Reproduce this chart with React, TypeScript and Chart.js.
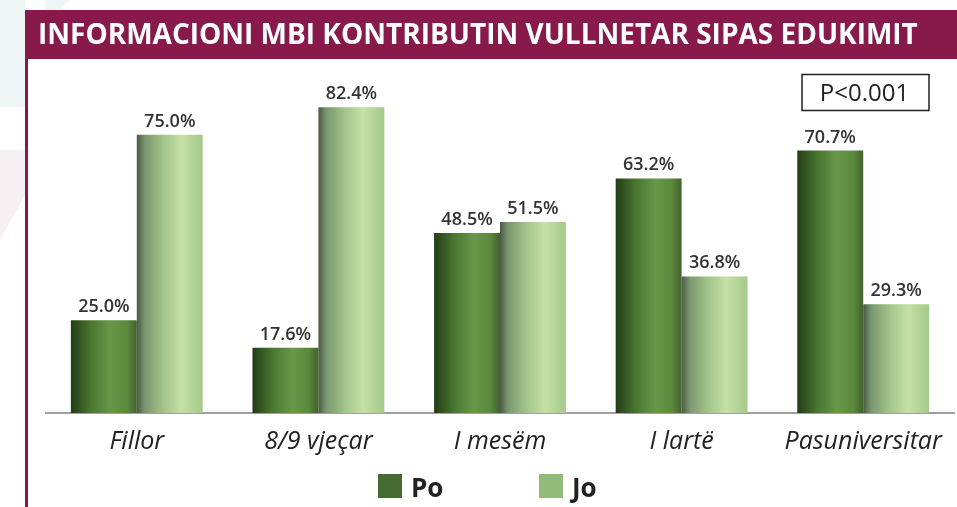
import React, { useEffect, useRef } from "react";
import { Chart, registerables } from "chart.js";

Chart.register(...registerables);

const TITLE = "INFORMACIONI MBI KONTRIBUTIN VULLNETAR SIPAS EDUKIMIT";
const CATEGORIES = ["Fillor", "8/9 vjeçar", "I mesëm", "I lartë", "Pasuniversitar"];
const SERIES_NAMES = ["Po", "Jo"];
const PO_VALUES = [25.0, 17.6, 48.5, 63.2, 70.7];
const JO_VALUES = [75.0, 82.4, 51.5, 36.8, 29.3];
const P_VALUE_LABEL = "P<0.001";

const MAROON = "#871a4b";
const LEGEND_COLORS = ["#466a30", "#93bb78"];
const GRADIENTS: [number, string][][] = [
  [
    [0, "#223c16"],
    [0.3, "#4a7530"],
    [0.6, "#68974a"],
    [0.85, "#5b8a3d"],
    [1, "#44612f"],
  ],
  [
    [0, "#4b5a44"],
    [0.12, "#7a9670"],
    [0.4, "#a2c48a"],
    [0.68, "#c5e0a6"],
    [1, "#a4c98a"],
  ],
];

const decorPlugin = {
  id: "decor",
  beforeDraw(chart: any) {
    const ctx = chart.ctx;
    ctx.save();
    // faint watermark shapes
    ctx.fillStyle = "#eef5f5";
    ctx.beginPath();
    ctx.moveTo(0, 0);
    ctx.lineTo(25, 0);
    ctx.lineTo(25, 107);
    ctx.lineTo(0, 107);
    ctx.closePath();
    ctx.fill();
    ctx.beginPath();
    ctx.moveTo(45, 0);
    ctx.lineTo(70, 0);
    ctx.lineTo(60, 10);
    ctx.lineTo(45, 10);
    ctx.closePath();
    ctx.fill();
    ctx.fillStyle = "#f7f0f2";
    ctx.beginPath();
    ctx.moveTo(0, 150);
    ctx.lineTo(25, 150);
    ctx.lineTo(25, 195);
    ctx.lineTo(0, 240);
    ctx.closePath();
    ctx.fill();
    // banner
    ctx.fillStyle = MAROON;
    ctx.fillRect(25, 10, 932, 49);
    ctx.fillRect(25, 59, 3, 448);
    ctx.fillStyle = "#ffffff";
    ctx.font = "bold 28px 'Open Sans'";
    ctx.textAlign = "left";
    ctx.textBaseline = "alphabetic";
    ctx.fillText(TITLE, 38, 44, 886);
    // p-value box
    ctx.strokeStyle = "#222";
    ctx.lineWidth = 1.5;
    ctx.strokeRect(802, 74.5, 127, 36);
    ctx.fillStyle = "#222";
    ctx.font = "500 24px 'Open Sans'";
    ctx.textAlign = "center";
    ctx.fillText(P_VALUE_LABEL, 864.5, 101);
    // legend
    const legendX = [378, 539];
    SERIES_NAMES.forEach((name, i) => {
      ctx.fillStyle = LEGEND_COLORS[i];
      ctx.fillRect(legendX[i], 474, 24, 24);
      ctx.fillStyle = "#222";
      ctx.font = "bold 26px 'Open Sans'";
      ctx.textAlign = "left";
      ctx.fillText(name, legendX[i] + 33, 497);
    });
    ctx.restore();
  },
  beforeDatasetsDraw(chart: any) {
    const ctx = chart.ctx;
    chart.data.datasets.forEach((_: any, di: number) => {
      const meta = chart.getDatasetMeta(di);
      meta.data.forEach((el: any) => {
        const w = el.width;
        const g = ctx.createLinearGradient(el.x - w / 2, 0, el.x + w / 2, 0);
        GRADIENTS[di].forEach(([o, c]) => g.addColorStop(o, c));
        el.options.backgroundColor = g;
      });
    });
  },
  afterDatasetsDraw(chart: any) {
    const ctx = chart.ctx;
    ctx.save();
    ctx.fillStyle = "#333";
    ctx.font = "600 18px 'Open Sans'";
    ctx.textAlign = "center";
    ctx.textBaseline = "alphabetic";
    chart.data.datasets.forEach((ds: any, di: number) => {
      const meta = chart.getDatasetMeta(di);
      meta.data.forEach((el: any, i: number) => {
        ctx.fillText(ds.data[i].toFixed(1) + "%", el.x, el.y - 8);
      });
    });
    ctx.restore();
  },
};

export default function App() {
  const ref = useRef<HTMLCanvasElement>(null);
  useEffect(() => {
    if (!ref.current) return;
    const chart = new Chart(ref.current, {
      type: "bar",
      data: {
        labels: CATEGORIES,
        datasets: [
          { label: SERIES_NAMES[0], data: PO_VALUES, backgroundColor: () => LEGEND_COLORS[0] },
          { label: SERIES_NAMES[1], data: JO_VALUES, backgroundColor: () => LEGEND_COLORS[1] },
        ],
      },
      options: {
        animation: false,
        responsive: false,
        maintainAspectRatio: false,
        layout: { padding: { left: 46, right: 3, top: 79, bottom: 0 } },
        datasets: { bar: { categoryPercentage: 0.726, barPercentage: 1.0, borderWidth: 0 } },
        plugins: { legend: { display: false }, tooltip: { enabled: false } },
        scales: {
          x: {
            grid: { display: false },
            border: { display: true, color: "#a0a0a0", width: 2 },
            ticks: {
              color: "#222",
              padding: 6,
              font: { family: "'Open Sans'", size: 25, style: "italic" },
            },
            afterFit: (s: any) => {
              s.height = 94;
            },
          },
          y: {
            display: false,
            min: 0,
            max: 90,
          },
        },
      },
      plugins: [decorPlugin],
    });
    return () => chart.destroy();
  }, []);
  return (
    <div style={{ position: "absolute", left: 0, top: 0, width: 957, height: 507, background: "#fff" }}>
      <canvas ref={ref} width={957} height={507} style={{ display: "block" }} />
    </div>
  );
}
